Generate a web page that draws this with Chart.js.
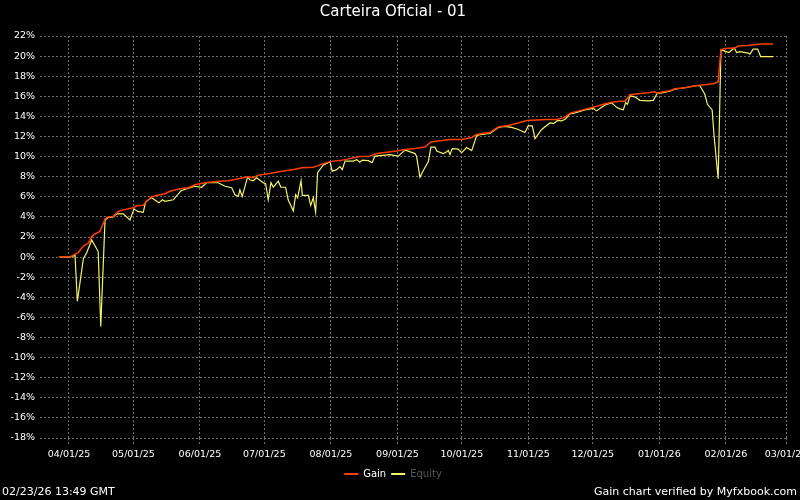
<!DOCTYPE html>
<html>
<head>
<meta charset="utf-8">
<script src="https://cdn.jsdelivr.net/npm/chart.js@4"></script>
<style>
  html, body { margin: 0; padding: 0; background: #000; overflow: hidden; }
  #wrap { position: relative; width: 800px; height: 500px; overflow: hidden; }
  #grafico { position: absolute; left: 0; top: 0; }
  .foot { position: absolute; top: 485px; font: 11px 'DejaVu Sans', sans-serif; color: #fff; white-space: nowrap; }
</style>
</head>
<body>
<div id="wrap">
  <canvas id="grafico" width="820" height="500"></canvas>
  <div class="foot" style="left:2px">02/23/26 13:49 GMT</div>
  <div class="foot" style="right:3px">Gain chart verified by Myfxbook.com</div>
</div>
<script>
// dias contados a partir de 04/01/25
var monthLabels = ['04/01/25', '05/01/25', '06/01/25', '07/01/25', '08/01/25', '09/01/25',
  '10/01/25', '11/01/25', '12/01/25', '01/01/26', '02/01/26', '03/01/26'];

var gainDays = [-4.5, 0.5, 2.8, 4.3, 6.7, 9.0, 10.6, 12.1, 14.4, 16.8, 18.3, 20.6, 23.0, 25.3, 29.9,
  31.5, 34.6, 36.2, 38.5, 42.4, 44.7, 47.0, 51.7, 55.6, 58.7, 63.3, 69.5, 74.2, 78.9, 83.5, 85.8,
  88.2, 92.8, 99.1, 105.3, 108.4, 113.8, 116.1, 118.4, 121.6, 123.1, 126.2, 128.6, 135.5, 139.4,
  143.3, 147.2, 152.6, 156.5, 161.2, 165.8, 168.6, 172.0, 177.5, 182.9, 187.6, 189.9, 192.2, 196.1,
  200.0, 204.6, 209.3, 213.2, 217.8, 222.5, 227.2, 231.0, 233.3, 235.7, 240.3, 245.0, 248.9, 252.8,
  256.6, 259.0, 261.3, 265.2, 269.8, 272.9, 274.0, 276.8, 279.9, 282.2, 286.9, 291.5, 296.2, 300.1,
  302.4, 303.7, 305.5, 310.2, 311.7, 316.4, 318.0, 322.6, 328.0];
var gainValues = [0, 0, 0.3, 0.45, 1.1, 1.4, 2.07, 2.3, 2.55, 3.8, 4.0, 4.05, 4.55, 4.7, 4.9,
  5.1, 5.15, 5.55, 6.0, 6.2, 6.3, 6.55, 6.8, 6.9, 7.2, 7.4, 7.55, 7.6, 7.8, 8.0, 7.9,
  8.15, 8.3, 8.55, 8.75, 8.9, 8.95, 9.1, 9.3, 9.5, 9.55, 9.6, 9.7, 10.0, 10.0,
  10.3, 10.4, 10.55, 10.7, 10.8, 10.95, 11.45, 11.55, 11.7, 11.7, 11.9, 12.2, 12.3, 12.4,
  12.95, 13.1, 13.35, 13.6, 13.65, 13.7, 13.7, 13.9, 14.3, 14.45, 14.7, 14.95, 15.2, 15.4,
  15.5, 15.5, 16.15, 16.25, 16.35, 16.45, 16.3, 16.45, 16.55, 16.75, 16.85, 17.05, 17.15, 17.25,
  17.45, 20.65, 20.75, 20.8, 21.0, 21.05, 21.1, 21.2, 21.2];

var equityDays = [-4.5, 0.5, 2.8, 3.9, 6.7, 8.2, 10.6, 13.6, 14.8, 16.8, 18.3, 20.6, 22.2, 25.3, 28.4,
  30.3, 32.0, 34.6, 35.7, 38.5, 41.9, 43.5, 44.7, 48.6, 52.2, 55.6, 58.7, 61.8, 64.1, 69.5, 72.7,
  75.8, 77.3, 78.9, 79.6, 80.7, 83.2, 84.3, 85.8, 87.4, 90.5, 91.6, 92.8, 94.1, 95.2, 97.5, 98.7,
  100.9, 102.1, 104.5, 105.6, 106.5, 108.1, 108.7, 111.5, 112.6, 113.8, 114.9, 115.8, 118.4, 121.6,
  122.6, 124.7, 126.2, 127.3, 128.6, 132.4, 134.0, 135.5, 136.6, 139.4, 141.2, 142.5, 147.2, 149.5,
  153.4, 156.5, 158.0, 161.2, 161.9, 163.5, 165.0, 167.4, 168.6, 170.5, 171.3, 174.3, 175.5, 176.7,
  177.5, 178.5, 181.3, 182.9, 185.2, 187.6, 189.9, 192.2, 196.1, 200.0, 203.1, 206.2, 209.3, 212.4,
  213.9, 215.8, 217.1, 220.2, 224.0, 225.9, 227.6, 229.5, 231.3, 233.3, 235.7, 240.3, 244.2, 245.8,
  248.1, 250.4, 252.8, 255.1, 256.6, 258.2, 259.3, 260.2, 261.3, 263.6, 265.9, 269.8, 272.2, 274.0,
  276.1, 279.9, 282.2, 286.9, 292.3, 293.9, 296.2, 297.4, 299.6, 300.5, 302.4, 303.7, 305.5, 307.4,
  309.9, 311.0, 312.5, 316.4, 317.2, 318.7, 320.8, 322.2, 328.0];
var equityValues = [0, 0, 0.2, -4.4, -0.15, 0.4, 1.7, 0.55, -6.9, 3.7, 3.95, 4.0, 4.3, 4.3, 3.7,
  4.8, 4.55, 4.45, 5.5, 5.9, 5.4, 5.7, 5.55, 5.7, 6.6, 6.85, 7.05, 6.95, 7.4, 7.4, 7.05,
  6.9, 6.2, 6.05, 6.7, 6.05, 7.95, 7.7, 7.6, 7.9, 7.4, 7.3, 5.7, 7.4, 6.95, 7.55, 6.95,
  6.95, 5.7, 4.6, 6.2, 5.9, 7.6, 6.15, 6.15, 5.15, 5.9, 4.45, 8.4, 9.15, 9.5,
  8.55, 8.7, 9.0, 8.7, 9.55, 9.55, 9.7, 9.45, 9.65, 9.6, 9.4, 10.05, 10.15, 10.2,
  10.05, 10.65, 10.55, 10.3, 10.05, 7.95, 8.6, 9.5, 10.95, 10.95, 10.55, 10.3, 10.4, 10.6,
  10.2, 10.8, 10.75, 10.4, 10.9, 10.6, 12.1, 12.2, 12.3, 12.9, 13.0, 12.9, 12.7, 12.4,
  13.05, 13.05, 11.8, 12.7, 13.35, 13.3, 13.6, 13.55, 13.75, 14.25, 14.35, 14.65, 14.8, 14.55,
  14.9, 15.2, 15.35, 14.9, 14.75, 14.65, 15.35, 15.2, 16.05, 15.95, 15.6, 15.55, 15.6, 16.3,
  16.35, 16.5, 16.7, 16.85, 17.05, 17.05, 16.2, 15.2, 14.65, 12.05, 7.8, 20.65, 20.5, 20.35,
  20.8, 20.35, 20.45, 20.3, 20.2, 20.7, 20.7, 19.95, 19.95];

function diaDe(label) {
  var p = label.split('/');
  return (Date.UTC(2000 + Number(p[2]), Number(p[0]) - 1, Number(p[1])) - Date.UTC(2025, 3, 1)) / 864e5;
}
var monthDays = monthLabels.map(diaDe);

function pontos(xs, ys) {
  return xs.map(function (x, i) { return { x: x, y: ys[i] }; });
}

var fonte = "'DejaVu Sans', sans-serif";
var corGrade = '#6e6e6e';

grafico = document.getElementById('grafico');
new Chart(grafico, {
  type: 'line',
  data: {
    datasets: [{
      label: 'Gain',
      data: pontos(gainDays, gainValues),
      borderColor: '#ff3f00',
      backgroundColor: '#ff3f00',
      borderWidth: 1.5,
      pointRadius: 0,
      tension: 0
    }, {
      label: 'Equity',
      data: pontos(equityDays, equityValues),
      borderColor: '#f4f46a',
      backgroundColor: '#f4f46a',
      borderWidth: 1.2,
      pointRadius: 0,
      tension: 0
    }]
  },
  options: {
    responsive: false,
    animation: false,
    devicePixelRatio: 1,
    layout: { padding: { top: 0, right: 34, bottom: 11, left: 0 } },
    plugins: {
      title: {
        display: true,
        text: 'Carteira Oficial - 01',
        color: '#fff',
        font: { family: fonte, size: 15, weight: 'normal' },
        padding: { top: 3, bottom: 15 }
      },
      legend: {
        position: 'bottom',
        labels: {
          font: { family: fonte, size: 10 },
          boxWidth: 14,
          boxHeight: 2,
          padding: 5,
          generateLabels: function (chart) {
            var itens = Chart.defaults.plugins.legend.labels.generateLabels(chart);
            itens.forEach(function (it) {
              it.fontColor = it.text === 'Equity' ? '#555' : '#fff';
              it.lineWidth = 0;
            });
            return itens;
          }
        }
      },
      tooltip: { enabled: false }
    },
    scales: {
      x: {
        type: 'linear',
        min: -13.5,
        max: 334,
        afterBuildTicks: function (scale) {
          scale.ticks = monthDays.map(function (d) { return { value: d }; });
        },
        afterFit: function (scale) { scale.height = 26; },
        ticks: {
          color: '#fff',
          font: { family: fonte, size: 9.5 },
          padding: 3,
          maxRotation: 0,
          autoSkip: false,
          callback: function (v) {
            var i = monthDays.indexOf(v);
            return i >= 0 ? monthLabels[i] : '';
          }
        },
        grid: {
          color: corGrade,
          tickBorderDash: [2, 2],
          tickLength: 8,
          tickColor: corGrade
        },
        border: { display: false, dash: [2, 2] }
      },
      y: {
        min: -18,
        max: 22,
        afterFit: function (scale) { scale.width = 40; },
        ticks: {
          stepSize: 2,
          color: '#fff',
          font: { family: fonte, size: 9.5 },
          padding: 5,
          callback: function (v) { return v + '%'; }
        },
        grid: {
          color: corGrade,
          drawTicks: false
        },
        border: { display: false, dash: [2, 2] }
      }
    }
  }
});
</script>
</body>
</html>
